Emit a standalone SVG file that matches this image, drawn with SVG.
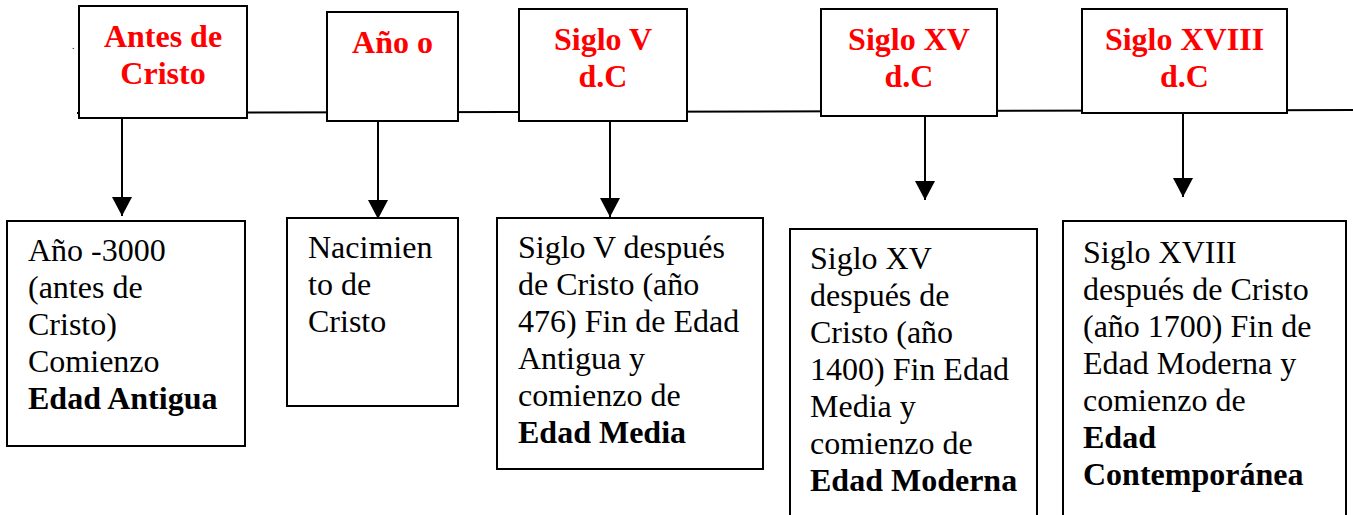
<svg xmlns="http://www.w3.org/2000/svg" width="1353" height="515" viewBox="0 0 1353 515">
  <style>
    .box { fill: #fff; stroke: #000; stroke-width: 2; }
    .conn { stroke: #000; stroke-width: 2; fill: none; }
    .head { fill: #000; }
    .title { font-family: "Liberation Serif", "Times New Roman", serif; font-size: 32px; font-weight: bold; fill: #ff0000; text-anchor: middle; }
    .body { font-family: "Liberation Serif", "Times New Roman", serif; font-size: 32px; fill: #000; }
    .b { font-weight: bold; }
  </style>
  <defs>
    <marker id="arrow" markerUnits="userSpaceOnUse" markerWidth="22" markerHeight="21" viewBox="0 0 22 21" refX="20" refY="10.5" orient="auto">
      <path class="head" d="M1,0.5 L20,10.5 L1,20.5 Z"/>
    </marker>
  </defs>
  <rect width="1353" height="515" fill="#fff"/>

  <g id="connectors">
    <line class="conn" x1="77" y1="113" x2="1353" y2="110"/>
    <line class="conn" x1="122" y1="118" x2="122" y2="216" marker-end="url(#arrow)"/>
    <line class="conn" x1="378" y1="121" x2="378" y2="219" marker-end="url(#arrow)"/>
    <line class="conn" x1="610" y1="121" x2="610" y2="217" marker-end="url(#arrow)"/>
    <line class="conn" x1="925" y1="116" x2="925" y2="200" marker-end="url(#arrow)"/>
    <line class="conn" x1="1183" y1="113" x2="1183" y2="197" marker-end="url(#arrow)"/>
  </g>

  <text class="body" x="72" y="49" style="font-size:10px">.</text>

  <g id="top-antes">
    <rect class="box" x="79" y="6" width="168" height="112"/>
    <text class="title" x="163" y="47">Antes de</text>
    <text class="title" x="163" y="84">Cristo</text>
  </g>
  <g id="top-ano0">
    <rect class="box" x="327" y="12" width="131" height="109"/>
    <text class="title" x="392.5" y="53">Año o</text>
  </g>
  <g id="top-sigloV">
    <rect class="box" x="519" y="9" width="168" height="112"/>
    <text class="title" x="603" y="50">Siglo V</text>
    <text class="title" x="603" y="87">d.C</text>
  </g>
  <g id="top-sigloXV">
    <rect class="box" x="821" y="9" width="176" height="107"/>
    <text class="title" x="909" y="50">Siglo XV</text>
    <text class="title" x="909" y="87">d.C</text>
  </g>
  <g id="top-sigloXVIII">
    <rect class="box" x="1082" y="9" width="205" height="104"/>
    <text class="title" x="1184.5" y="50">Siglo XVIII</text>
    <text class="title" x="1184.5" y="87">d.C</text>
  </g>

  <g id="box-antigua">
    <rect class="box" x="7" y="221" width="238" height="225"/>
    <text class="body" x="28" y="261">Año -3000</text>
    <text class="body" x="28" y="298">(antes de</text>
    <text class="body" x="28" y="335">Cristo)</text>
    <text class="body" x="28" y="372">Comienzo</text>
    <text class="body b" x="28" y="409">Edad Antigua</text>
  </g>
  <g id="box-nacimiento">
    <rect class="box" x="287" y="218" width="171" height="188"/>
    <text class="body" x="308" y="258">Nacimien</text>
    <text class="body" x="308" y="295">to de</text>
    <text class="body" x="308" y="332">Cristo</text>
  </g>
  <g id="box-media">
    <rect class="box" x="497" y="218" width="266" height="251"/>
    <text class="body" x="518" y="258">Siglo V después</text>
    <text class="body" x="518" y="295">de Cristo (año</text>
    <text class="body" x="518" y="332">476) Fin de Edad</text>
    <text class="body" x="518" y="369">Antigua y</text>
    <text class="body" x="518" y="406">comienzo de</text>
    <text class="body b" x="518" y="443">Edad Media</text>
  </g>
  <g id="box-moderna">
    <rect class="box" x="790" y="229" width="247" height="300"/>
    <text class="body" x="810" y="269">Siglo XV</text>
    <text class="body" x="810" y="306">después de</text>
    <text class="body" x="810" y="343">Cristo (año</text>
    <text class="body" x="810" y="380">1400) Fin Edad</text>
    <text class="body" x="810" y="417">Media y</text>
    <text class="body" x="810" y="454">comienzo de</text>
    <text class="body b" x="810" y="491">Edad Moderna</text>
  </g>
  <g id="box-contemporanea">
    <rect class="box" x="1063" y="221" width="283" height="310"/>
    <text class="body" x="1083" y="263">Siglo XVIII</text>
    <text class="body" x="1083" y="300">después de Cristo</text>
    <text class="body" x="1083" y="337">(año 1700) Fin de</text>
    <text class="body" x="1083" y="374">Edad Moderna y</text>
    <text class="body" x="1083" y="411">comienzo de</text>
    <text class="body b" x="1083" y="448">Edad</text>
    <text class="body b" x="1083" y="485">Contemporánea</text>
  </g>
</svg>
